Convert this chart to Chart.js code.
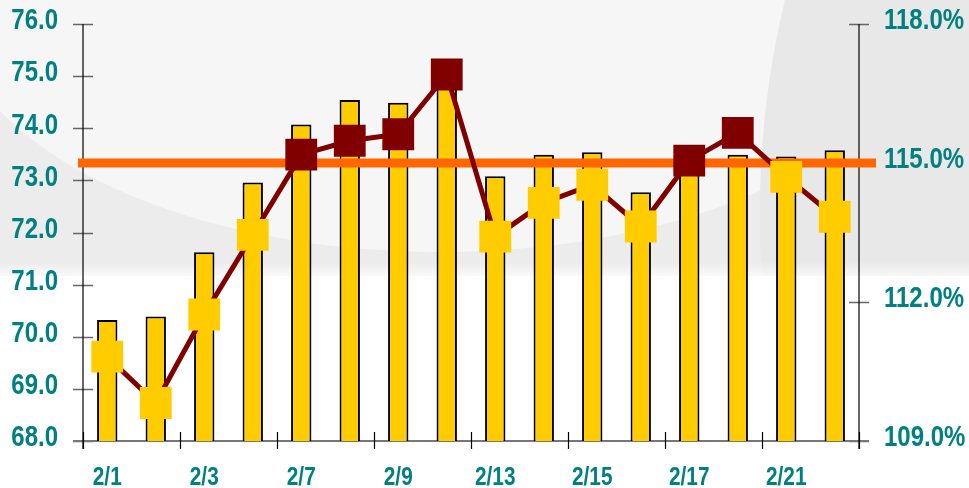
<!DOCTYPE html>
<html>
<head>
<meta charset="utf-8">
<script src="https://cdn.jsdelivr.net/npm/chart.js@4.4.1/dist/chart.umd.min.js"></script>
<style>
  body { margin: 0; background: #fff; }
  #wrap { width: 969px; height: 488px; }
</style>
</head>
<body>
<div id="wrap"><canvas id="myChart"></canvas></div>
<script>
// data
var dates = ['2/1', '2/2', '2/3', '2/6', '2/7', '2/8', '2/9', '2/10',
             '2/13', '2/14', '2/15', '2/16', '2/17', '2/20', '2/21', '2/22'];
var barValues = [70.32, 70.39, 71.62, 72.96, 74.07, 74.54, 74.49, 74.85,
                 73.08, 73.49, 73.54, 72.77, 73.62, 73.49, 73.46, 73.58];
var ratioValues = [110.82, 109.82, 111.73, 113.45, 115.18, 115.48, 115.62, 116.91,
                   113.41, 114.14, 114.53, 113.63, 115.05, 115.65, 114.70, 113.84];
var leftTicks = [68, 69, 70, 71, 72, 73, 74, 75, 76];
var rightTicks = [109, 112, 115, 118];
var target = 115.0;

var teal = '#008080';
// the original uses a narrow bold face; squeeze Liberation Sans to get it
var labelFamily = "'Liberation Sans', Arial, sans-serif";
var squeeze = 0.8;

// grey swoosh behind the chart
const backdrop = {
    id: 'backdrop',
    beforeDraw: function (chart) {
        var ctx = chart.ctx;
        ctx.save();
        ctx.fillStyle = '#ffffff';
        ctx.fillRect(0, 0, chart.width, chart.height);
        ctx.fillStyle = '#ececec';
        ctx.fillRect(0, 0, chart.width, 276);
        ctx.fillStyle = '#f6f6f6';
        ctx.beginPath();
        ctx.ellipse(440, 0, 490, 252, 0, 0, Math.PI * 2);
        ctx.fill();
        ctx.fillStyle = '#e8e8e8';
        ctx.beginPath();
        ctx.moveTo(785, 0);
        ctx.bezierCurveTo(765, 80, 755, 180, 762, 276);
        ctx.lineTo(chart.width, 276);
        ctx.lineTo(chart.width, 0);
        ctx.closePath();
        ctx.fill();
        var g = ctx.createLinearGradient(0, 262, 0, 282);
        g.addColorStop(0, 'rgba(255,255,255,0)');
        g.addColorStop(1, 'rgba(255,255,255,1)');
        ctx.fillStyle = g;
        ctx.fillRect(0, 262, chart.width, 20);
        ctx.restore();
    }
};

// axis lines and tick marks that cross the axes
const axisMarks = {
    id: 'axisMarks',
    beforeDatasetsDraw: function (chart) {
        var ctx = chart.ctx;
        var a = chart.chartArea;
        var x = chart.scales.x, yL = chart.scales.y, yR = chart.scales.y2;
        ctx.save();
        ctx.lineWidth = 1.5;
        ctx.strokeStyle = '#666666';
        leftTicks.forEach(function (v) {
            var py = Math.round(yL.getPixelForValue(v)) + 0.5;
            ctx.beginPath(); ctx.moveTo(a.left - 10, py); ctx.lineTo(a.left + 10, py); ctx.stroke();
        });
        rightTicks.forEach(function (v) {
            var py = Math.round(yR.getPixelForValue(v)) + 0.5;
            ctx.beginPath(); ctx.moveTo(a.right - 10, py); ctx.lineTo(a.right + 10, py); ctx.stroke();
        });
        ctx.strokeStyle = '#777777';
        ctx.lineWidth = 2;
        ctx.beginPath(); ctx.moveTo(a.left - 10, a.bottom); ctx.lineTo(a.right + 10, a.bottom); ctx.stroke();
        ctx.strokeStyle = '#000000';
        ctx.lineWidth = 1.2;
        ctx.beginPath(); ctx.moveTo(a.left, a.top); ctx.lineTo(a.left, a.bottom + 8); ctx.stroke();
        ctx.beginPath(); ctx.moveTo(a.right, a.top); ctx.lineTo(a.right, a.bottom + 8); ctx.stroke();
        var step = (x.getPixelForValue(1) - x.getPixelForValue(0));
        for (var i = 0; i <= dates.length; i += 2) {
            var px = Math.round(x.getPixelForValue(i) - step / 2) + 0.5;
            ctx.beginPath(); ctx.moveTo(px, a.bottom - 9); ctx.lineTo(px, a.bottom + 8); ctx.stroke();
        }
        ctx.restore();
    },
    // orange target line sits over the bars, under the ratio line
    beforeDatasetDraw: function (chart, args) {
        if (args.index !== 1) return;
        var ctx = chart.ctx;
        var a = chart.chartArea;
        var py = chart.scales.y2.getPixelForValue(target);
        ctx.save();
        ctx.strokeStyle = '#ff6600';
        ctx.lineWidth = 9;
        ctx.beginPath(); ctx.moveTo(a.left - 5, py); ctx.lineTo(a.right + 17, py); ctx.stroke();
        ctx.restore();
    }
};

// tick labels from the scales' own ticks, drawn horizontally condensed
function squeezedText(ctx, text, px, py, align, size) {
    ctx.save();
    ctx.translate(px, py);
    ctx.scale(squeeze, 1);
    ctx.font = 'bold ' + size + 'px ' + labelFamily;
    ctx.fillStyle = teal;
    ctx.textAlign = align;
    ctx.textBaseline = 'middle';
    ctx.fillText(text, 0, 0);
    ctx.restore();
}
const axisLabels = {
    id: 'axisLabels',
    afterDraw: function (chart) {
        var ctx = chart.ctx;
        var a = chart.chartArea;
        var x = chart.scales.x, yL = chart.scales.y, yR = chart.scales.y2;
        yL.ticks.forEach(function (t) {
            squeezedText(ctx, t.value.toFixed(1), a.left - 25, yL.getPixelForValue(t.value) - 3, 'right', 30);
        });
        yR.ticks.forEach(function (t) {
            squeezedText(ctx, t.value.toFixed(1) + '%', a.right + 25, yR.getPixelForValue(t.value) - 3, 'left', 30);
        });
        x.ticks.forEach(function (t, i) {
            if (i % 2 !== 0) return;
            squeezedText(ctx, dates[i], x.getPixelForValue(i), a.bottom + 37, 'center', 26);
        });
    }
};

const data = {
    labels: dates,
    datasets: [
        {
            type: 'bar',
            data: barValues,
            backgroundColor: '#ffcc00',
            borderColor: '#000000',
            borderWidth: 2,
            borderSkipped: 'bottom',
            barPercentage: 0.42,
            categoryPercentage: 1,
            yAxisID: 'y',
            order: 2
        },
        {
            type: 'line',
            data: ratioValues,
            borderColor: '#800000',
            borderWidth: 5,
            pointStyle: 'rect',
            pointRadius: 22.5,
            pointBorderWidth: 0,
            pointBackgroundColor: function (c) {
                return c.raw > target ? '#800000' : '#ffcc00';
            },
            tension: 0,
            clip: false,
            yAxisID: 'y2',
            order: 1
        }
    ]
};

const config = {
    data: data,
    plugins: [backdrop, axisMarks, axisLabels],
    options: {
        responsive: true,
        maintainAspectRatio: false,
        animation: false,
        layout: { padding: { top: 24, left: 0, right: 0, bottom: 0 } },
        plugins: {
            legend: { display: false },
            tooltip: { enabled: false }
        },
        scales: {
            x: {
                grid: { display: false },
                border: { display: false },
                ticks: { display: false, autoSkip: false },
                afterFit: function (s) { s.height = 47; }
            },
            y: {
                position: 'left',
                min: 68, max: 76,
                grid: { display: false },
                border: { display: false },
                ticks: { display: false, stepSize: 1 },
                afterFit: function (s) { s.width = 83; }
            },
            y2: {
                position: 'right',
                min: 109, max: 118,
                grid: { display: false },
                border: { display: false },
                afterBuildTicks: function (s) {
                    s.ticks = rightTicks.map(function (v) { return { value: v }; });
                },
                ticks: { display: false },
                afterFit: function (s) { s.width = 110; }
            }
        }
    }
};

const myChart = new Chart(document.getElementById('myChart'), config);
</script>
</body>
</html>
